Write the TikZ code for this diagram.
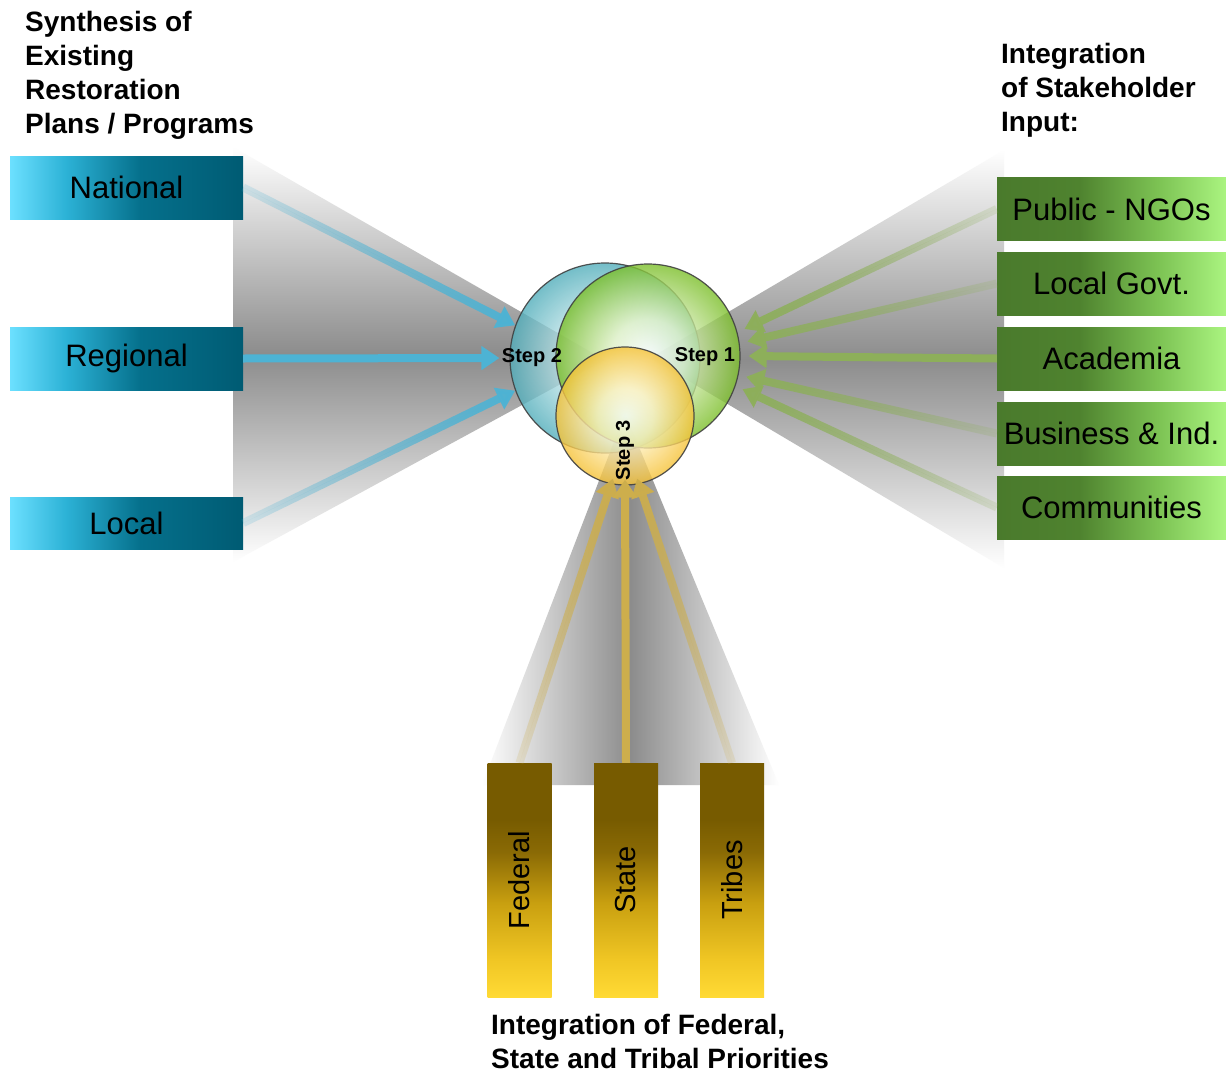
\documentclass[tikz,border=0pt]{standalone}
\usepackage{fontspec}
\setmainfont{Liberation Sans}
\usetikzlibrary{arrows.meta,fadings,shadings}

\definecolor{blA}{HTML}{6CE0FF}
\definecolor{blB}{HTML}{2CB2D6}
\definecolor{blC}{HTML}{05708C}
\definecolor{blD}{HTML}{005B73}
\definecolor{grA}{HTML}{4A7A2C}
\definecolor{grB}{HTML}{4F832F}
\definecolor{grC}{HTML}{7CC253}
\definecolor{grD}{HTML}{AAF480}
\definecolor{yeA}{HTML}{FFDA35}
\definecolor{yeB}{HTML}{F0C624}
\definecolor{yeC}{HTML}{C9A010}
\definecolor{yeD}{HTML}{8A6A05}
\definecolor{yeE}{HTML}{775B00}
\definecolor{fgray}{HTML}{8C8C8C}
\definecolor{blL}{HTML}{CDEBEE}
\definecolor{blR}{HTML}{52AEBB}
\definecolor{gL}{HTML}{E2F2C8}
\definecolor{gR}{HTML}{7CBF2A}
\definecolor{yL}{HTML}{FFF3C8}
\definecolor{yR}{HTML}{F6C236}
\definecolor{arrBlue}{HTML}{4DB3D4}
\definecolor{arrGreen}{HTML}{8DAF5A}
\definecolor{arrYellow}{HTML}{CDAE4C}

\pgfdeclarehorizontalshading{blueboxsh}{100bp}{color(0bp)=(blA); color(25bp)=(blA); color(37bp)=(blB); color(53bp)=(blC); color(75bp)=(blD); color(100bp)=(blD)}
\pgfdeclarehorizontalshading{greenboxsh}{100bp}{color(0bp)=(grA); color(25bp)=(grA); color(43bp)=(grB); color(60bp)=(grC); color(75bp)=(grD); color(100bp)=(grD)}
\pgfdeclareverticalshading{yellowboxsh}{100bp}{color(0bp)=(yeA); color(25bp)=(yeA); color(33bp)=(yeB); color(45bp)=(yeC); color(56bp)=(yeD); color(63bp)=(yeE); color(100bp)=(yeE)}
\pgfdeclareverticalshading{vfunnel}{100bp}{color(0bp)=(white); color(25bp)=(white); color(50bp)=(fgray); color(75bp)=(white); color(100bp)=(white)}
\pgfdeclarehorizontalshading{hfunnel}{100bp}{color(0bp)=(white); color(25bp)=(white); color(50bp)=(fgray); color(75bp)=(white); color(100bp)=(white)}
\pgfdeclareradialshading{blueball}{\pgfpoint{0bp}{0bp}}{color(0bp)=(white); color(10bp)=(blL); color(25bp)=(blR); color(50bp)=(blR)}
\pgfdeclareradialshading{greenball}{\pgfpoint{0bp}{0bp}}{color(0bp)=(white); color(10bp)=(gL); color(25bp)=(gR); color(50bp)=(gR)}
\pgfdeclareradialshading{yellowball}{\pgfpoint{0bp}{0bp}}{color(0bp)=(white); color(10bp)=(yL); color(25bp)=(yR); color(50bp)=(yR)}

\tikzfading[name=fadeleft, left color=transparent!85, right color=transparent!0]
\tikzfading[name=faderight, left color=transparent!0, right color=transparent!85]
\tikzfading[name=fadebottom, top color=transparent!0, bottom color=transparent!85]

\tikzset{
  bluebox/.style={shade, shading=blueboxsh, minimum width=233pt, inner sep=0pt,
    font=\fontsize{31}{36}\selectfont, text=black},
  greenbox/.style={shade, shading=greenboxsh, minimum width=229pt, minimum height=63pt, inner sep=0pt,
    font=\fontsize{31}{36}\selectfont, text=black},
  yellowbox/.style={shade, shading=yellowboxsh, minimum width=234pt, minimum height=64pt, inner sep=0pt,
    rotate=90, font=\fontsize{29}{34}\selectfont, text=black},
  ball/.style={circle, inner sep=0pt, draw=black!75, line width=1.2pt, fill opacity=0.8, draw opacity=0.9},
  steptxt/.style={font=\fontsize{20}{22}\selectfont\bfseries, inner sep=0pt, text=black},
  headtxt/.style={font=\fontsize{28}{34}\selectfont\bfseries, align=left, inner sep=0pt, anchor=north west},
  arrbase/.style={line width=8pt, -{Triangle[width=23pt,length=18pt]}},
  barrow/.style={arrbase, draw=arrBlue, fill=arrBlue},
  garrow/.style={arrbase, draw=arrGreen, fill=arrGreen},
  yarrow/.style={arrbase, draw=arrYellow, fill=arrYellow},
}

\begin{document}
\begin{tikzpicture}[x=1pt,y=-1pt]
\fill[white] (0,0) rectangle (1226,1073);
\useasboundingbox (0,0) rectangle (1226,1073);

% gray funnels
\shade[shading=vfunnel] (233,147) -- (605,360) -- (233,562) -- cycle;
\shade[shading=vfunnel] (650,358) -- (1004,150) -- (1004,568) -- cycle;
\shade[shading=hfunnel] (625,413) -- (779,785) -- (482,785) -- cycle;

% circles
\node[ball, shade, shading=blueball, minimum size=190pt] (c2) at (605,358) {};
\node[ball, shade, shading=greenball, minimum size=184pt] (c1) at (648,356) {};
\node[ball, shade, shading=yellowball, minimum size=138pt] (c3) at (625,416) {};

% boxes
\node[bluebox, minimum height=63pt] (nat) at (126.5,187.5) {National};
\node[bluebox, minimum height=63pt] (reg) at (126.5,358.5) {Regional};
\node[bluebox, minimum height=52pt] (loc) at (126.5,523) {Local};

\node[greenbox] (pub) at (1111.5,209) {Public - NGOs};
\node[greenbox] (lgv) at (1111.5,283.5) {Local Govt.};
\node[greenbox] (aca) at (1111.5,358.5) {Academia};
\node[greenbox] (bus) at (1111.5,433.5) {Business \& Ind.};
\node[greenbox] (com) at (1111.5,507.5) {Communities};

\node[yellowbox] (fed) at (519.5,880) {Federal};
\node[yellowbox] (sta) at (626,880) {State};
\node[yellowbox] (tri) at (732,880) {Tribes};

% arrows
\draw[barrow, path fading=fadeleft] (nat.east) -- (c2.160);
\draw[barrow, shorten >=10pt] (reg.east) -- (c2.west);
\draw[barrow, path fading=fadeleft] (loc.east) -- (c2.200);

\draw[garrow, path fading=faderight] (pub.west) -- ([xshift=8pt]c1.17);
\draw[garrow, path fading=faderight] (lgv.west) -- ([xshift=8pt]c1.9);
\draw[garrow] (aca.west) -- ([xshift=8pt]c1.east);
\draw[garrow, path fading=faderight] (bus.west) -- ([xshift=8pt]c1.-13);
\draw[garrow, path fading=faderight] (com.west) -- ([xshift=8pt]c1.-21);

\draw[yarrow, path fading=fadebottom] (fed.east) -- ([yshift=6pt]c3.260);
\draw[yarrow] (sta.east) -- ([yshift=6pt]c3.south);
\draw[yarrow, path fading=fadebottom] (tri.east) -- ([yshift=6pt]c3.280);

% step labels
\node[steptxt] (s2) at (532,358) {Step 2};
\node[steptxt] (s1) at (705,357) {Step 1};
\node[steptxt, rotate=90] (s3) at (625,450) {Step 3};

% headings
\node[headtxt] (h1) at (25,11) {Synthesis of\\Existing\\Restoration\\Plans / Programs};
\node[headtxt] (h2) at (1001,43) {Integration\\of Stakeholder\\Input:};
\node[headtxt] (h3) at (491,1014) {Integration of Federal,\\State and Tribal Priorities};
\end{tikzpicture}
\end{document}
